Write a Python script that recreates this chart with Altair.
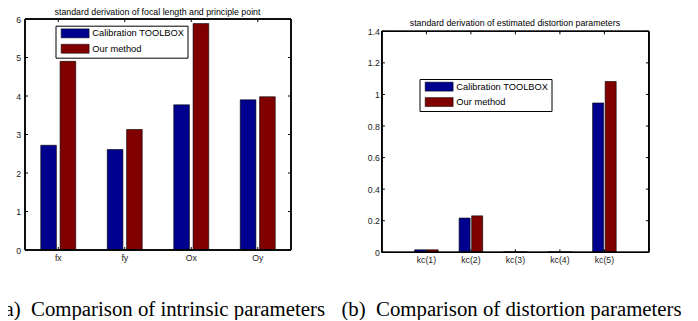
import altair as alt
import pandas as pd

methods = ["Calibration TOOLBOX", "Our method"]
colors = ["#00008F", "#800000"]

params_a = ["fx", "fy", "Ox", "Oy"]
toolbox_a = [2.72, 2.61, 3.77, 3.90]
ours_a = [4.90, 3.13, 5.88, 3.98]
yticks_a = [0, 1, 2, 3, 4, 5, 6]

params_b = ["kc(1)", "kc(2)", "kc(3)", "kc(4)", "kc(5)"]
toolbox_b = [0.016, 0.217, 0.003, 0.003, 0.946]
ours_b = [0.016, 0.231, 0.003, 0.003, 1.082]
yticks_b = [0, 0.2, 0.4, 0.6, 0.8, 1.0, 1.2, 1.4]

title_a = "standard derivation of focal length and principle point"
title_b = "standard derivation of estimated distortion parameters"
caption_a = "(a)\u00a0 Comparison of intrinsic parameters"
caption_b = "(b)\u00a0 Comparison of distortion parameters"

SANS = "Liberation Sans"
SERIF = "Liberation Serif"
TICK = 3


def panel(params, s1, s2, yticks, title, title_y, caption, w, h, top, pin, pout, poff,
          cap_x, cap_y, cap_align, lab_pad, leg_x, leg_y):
    df = pd.DataFrame({
        "param": params * 2,
        "method": [methods[0]] * len(params) + [methods[1]] * len(params),
        "value": list(s1) + list(s2),
    })
    yt = pd.DataFrame({"value": yticks})
    xt = pd.DataFrame({"param": params})
    ymin, ymax = yticks[0], yticks[-1]

    xscale = alt.Scale(type="band", domain=params, paddingInner=pin, paddingOuter=pout)
    yscale = alt.Scale(domain=[ymin, ymax], nice=False, zero=True, range=[h, top])
    xaxis = alt.Axis(
        title=caption, labelAngle=0, ticks=False, domain=False, grid=False,
        labelFont=SANS, labelFontSize=8.7, labelColor="#222", labelPadding=3,
        titleFont=SERIF, titleFontSize=20.8, titleFontWeight="normal", titleColor="black",
        titleX=cap_x, titleY=cap_y, titleAlign=cap_align, titleBaseline="alphabetic",
    )
    topaxis = alt.Axis(
        orient="top", title=title, labels=False, ticks=False, domain=False, grid=False,
        titleFont=SANS, titleFontSize=8.8, titleFontWeight="normal", titleColor="black",
        titleX=w / 2 - 1, titleY=title_y, titleAlign="center", titleBaseline="alphabetic",
    )
    yaxis = alt.Axis(
        title=None, values=yticks, format="~g", ticks=False, domain=False, grid=False,
        labelFont=SANS, labelFontSize=8.7, labelColor="#222", labelPadding=lab_pad,
    )
    X = alt.X("param:N", sort=params, scale=xscale, axis=xaxis)
    Xplain = alt.X("param:N", sort=params, scale=xscale, axis=None)
    Xtop = alt.X("param:N", sort=params, scale=xscale, axis=topaxis)
    Y = alt.Y("value:Q", scale=yscale, axis=yaxis)
    Ytop = alt.YDatum(ymax, type="quantitative", scale=yscale, axis=yaxis)
    Ybot = alt.YDatum(ymin, type="quantitative", scale=yscale, axis=yaxis)

    bars = alt.Chart(df).mark_bar(stroke="black", strokeWidth=0.6).encode(
        x=X,
        xOffset=alt.XOffset("method:N", sort=methods,
                            scale=alt.Scale(paddingInner=poff, paddingOuter=0)),
        y=Y,
        color=alt.Color(
            "method:N", sort=methods,
            scale=alt.Scale(domain=methods, range=colors),
            legend=alt.Legend(
                title=None, orient="none", legendX=leg_x, legendY=leg_y,
                padding=3, strokeColor="black", fillColor="white", cornerRadius=0,
                symbolType="M-14,-4.5H14V4.5H-14Z", symbolSize=4,
                symbolStrokeColor="black", symbolStrokeWidth=0.5, symbolOpacity=1,
                symbolOffset=12, labelOffset=12.5, rowPadding=3.4,
                labelFont=SANS, labelFontSize=9.3, labelColor="black",
            ),
        ),
    )
    ytl = alt.Chart(yt).mark_rule(color="black", strokeWidth=1).encode(
        y=Y, x=alt.value(0), x2=alt.value(TICK))
    ytr = alt.Chart(yt).mark_rule(color="black", strokeWidth=1).encode(
        y=Y, x=alt.value(w - TICK), x2=alt.value(w))
    xtb = alt.Chart(xt).mark_rule(color="black", strokeWidth=1, y2Offset=-TICK).encode(
        x=Xplain, y=Ybot, y2=alt.Y2Datum(ymin))
    frame = alt.Chart(xt).mark_rect(filled=False, stroke="black", strokeWidth=1).encode(
        x=alt.value(0), x2=alt.value(w), y=Ytop, y2=alt.Y2Datum(ymin))
    xtt = alt.Chart(xt).mark_rule(color="black", strokeWidth=1, y2Offset=TICK).encode(
        x=Xtop, y=Ytop, y2=alt.Y2Datum(ymax))

    return alt.layer(bars, ytl, ytr, xtb, frame, xtt).resolve_scale(
        x="independent"
    ).properties(width=w, height=h)


left = panel(params_a, toolbox_a, ours_a, yticks_a, title_a, -4.5, caption_a,
             266, 231, 0, 0.474, 0.237, 0.19,
             299.5, 65, "right", 4.5, 30.5, 6.7)
right = panel(params_b, toolbox_b, ours_b, yticks_b, title_b, 6.5, caption_b,
              267, 233.3, 12.3, 0.47, 0.735, 0.12,
              -41, 63, "left", 2.5, 37.6, 60)

chart = alt.hconcat(left, right, spacing=15.9).resolve_scale(
    color="independent", x="independent", y="independent", xOffset="independent"
).resolve_legend(color="independent").properties(
    padding={"left": -11, "top": -1, "right": 0, "bottom": 0},
    background="white",
).configure_view(strokeWidth=0, stroke="transparent")

chart.save("out.html", embed_options={"renderer": "svg", "actions": False})
